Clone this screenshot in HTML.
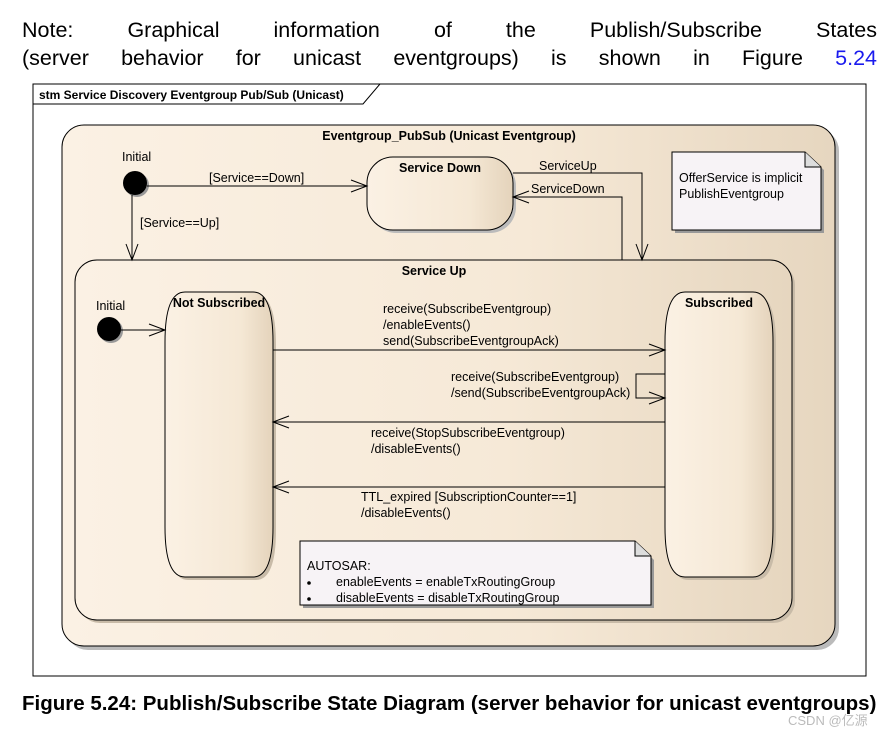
<!DOCTYPE html>
<html><head><meta charset="utf-8"><style>
body{margin:0;background:#fff;width:889px;height:733px;overflow:hidden;font-family:"Liberation Sans",sans-serif}
.nl{position:absolute;left:22px;width:855px;font-size:21.5px;line-height:28px;text-align:justify;text-align-last:justify;color:#000;white-space:nowrap}
.cap{position:absolute;left:22px;top:692px;font-size:20.5px;font-weight:bold;white-space:nowrap}
.wm{position:absolute;left:788px;top:710px;font-size:13px;color:#bbb}
</style></head><body>
<div class="nl" style="top:16px;white-space:normal">Note: Graphical information of the Publish/Subscribe States</div>
<div class="nl" style="top:44px;white-space:normal">(server behavior for unicast eventgroups) is shown in Figure <span style="color:#1a1aee">5.24</span></div>
<svg style="position:absolute;left:0;top:0" width="889" height="733" font-family="Liberation Sans, sans-serif" font-size="12.5">
<defs>
<linearGradient id="g" x1="0" x2="1"><stop offset="0" stop-color="#fbf1e4"/><stop offset="0.6" stop-color="#f6e9d7"/><stop offset="1" stop-color="#e6d6bf"/></linearGradient>
<linearGradient id="g2" x1="0" x2="1"><stop offset="0" stop-color="#fbf1e4"/><stop offset="0.7" stop-color="#f5e8d5"/><stop offset="1" stop-color="#e4d3bb"/></linearGradient>
</defs>
<rect x="33" y="84" width="833" height="592" fill="#fff" stroke="#000"/>
<path d="M33 84 H380 L363 104 H33 Z" fill="#fff" stroke="#000"/>
<text x="39" y="99" font-weight="bold" font-size="12">stm Service Discovery Eventgroup Pub/Sub (Unicast)</text>
<rect x="66" y="129" width="773" height="521" rx="22" fill="#bbb"/>
<rect x="62" y="125" width="773" height="521" rx="22" fill="url(#g)" stroke="#000"/>
<text x="449" y="140" text-anchor="middle" font-weight="bold">Eventgroup_PubSub (Unicast Eventgroup)</text>
<rect x="370" y="160" width="146" height="73" rx="26" fill="#bbb"/>
<rect x="367" y="157" width="146" height="73" rx="26" fill="url(#g2)" stroke="#000"/>
<text x="440" y="172" text-anchor="middle" font-weight="bold">Service Down</text>
<rect x="78" y="263" width="717" height="360" rx="22" fill="#c8bba8"/>
<rect x="75" y="260" width="717" height="360" rx="22" fill="url(#g)" stroke="#000"/>
<text x="434" y="275" text-anchor="middle" font-weight="bold">Service Up</text>
<path d="M188 295 H256 Q276 295 276 345 V530 Q276 580 256 580 H188 Q168 580 168 530 V345 Q168 295 188 295Z" fill="#c8bba8"/>
<path d="M185 292 H253 Q273 292 273 342 V527 Q273 577 253 577 H185 Q165 577 165 527 V342 Q165 292 185 292Z" fill="url(#g2)" stroke="#000"/>
<text x="219" y="307" text-anchor="middle" font-weight="bold">Not Subscribed</text>
<path d="M688 295 H756 Q776 295 776 345 V530 Q776 580 756 580 H688 Q668 580 668 530 V345 Q668 295 688 295Z" fill="#c8bba8"/>
<path d="M685 292 H753 Q773 292 773 342 V527 Q773 577 753 577 H685 Q665 577 665 527 V342 Q665 292 685 292Z" fill="url(#g2)" stroke="#000"/>
<text x="719" y="307" text-anchor="middle" font-weight="bold">Subscribed</text>
<circle cx="137" cy="185" r="12" fill="#999"/><circle cx="135" cy="183" r="12" fill="#000"/>
<text x="122" y="161">Initial</text>
<circle cx="111" cy="331" r="12" fill="#999"/><circle cx="109" cy="329" r="12" fill="#000"/>
<text x="96" y="310">Initial</text>
<g stroke="#000" fill="none" stroke-width="1">
<path d="M147 186 H367 M351 180 L367 186 L351 192"/>
<path d="M132 195 V260 M126 244 L132 260 L138 244"/>
<path d="M513 173 H642 V260 M636 244 L642 260 L648 244"/>
<path d="M622 260 V197 H513 M529 191 L513 197 L529 203"/>
<path d="M121 330 H165 M149 324 L165 330 L149 336"/>
<path d="M273 350 H665 M649 344 L665 350 L649 356"/>
<path d="M665 374 H636 V398 H665 M649 392 L665 398 L649 404"/>
<path d="M665 422 H273 M289 416 L273 422 L289 428"/>
<path d="M665 487 H273 M289 481 L273 487 L289 493"/>
</g>
<g>
<text x="209" y="182">[Service==Down]</text>
<text x="140" y="227">[Service==Up]</text>
<text x="539" y="170">ServiceUp</text>
<text x="531" y="193">ServiceDown</text>
<text x="383" y="313">receive(SubscribeEventgroup)</text>
<text x="383" y="329">/enableEvents()</text>
<text x="383" y="345">send(SubscribeEventgroupAck)</text>
<text x="451" y="381">receive(SubscribeEventgroup)</text>
<text x="451" y="397">/send(SubscribeEventgroupAck)</text>
<text x="371" y="437">receive(StopSubscribeEventgroup)</text>
<text x="371" y="453">/disableEvents()</text>
<text x="361" y="501">TTL_expired [SubscriptionCounter==1]</text>
<text x="361" y="517">/disableEvents()</text>
</g>
<path d="M675 155 H807 L824 170 V233 H675Z" fill="#999"/>
<path d="M672 152 H805 L821 167 V230 H672Z" fill="#f7f3f6" stroke="#000"/>
<path d="M805 152 V167 H821" fill="#ddd" stroke="#000"/>
<text x="679" y="182">OfferService is implicit</text>
<text x="679" y="198">PublishEventgroup</text>
<path d="M303 544 H638 L654 560 V608 H303Z" fill="#999"/>
<path d="M300 541 H635 L651 556 V605 H300Z" fill="#f7f3f6" stroke="#000"/>
<path d="M635 541 V556 H651" fill="#ddd" stroke="#000"/>
<text x="307" y="570">AUTOSAR:</text>
<circle cx="309" cy="583" r="1.8"/><text x="336" y="586">enableEvents = enableTxRoutingGroup</text>
<circle cx="309" cy="599" r="1.8"/><text x="336" y="602">disableEvents = disableTxRoutingGroup</text>
</svg>
<div class="cap">Figure 5.24: Publish/Subscribe State Diagram (server behavior for unicast eventgroups)</div>
<div class="wm">CSDN @亿源</div>
</body></html>
